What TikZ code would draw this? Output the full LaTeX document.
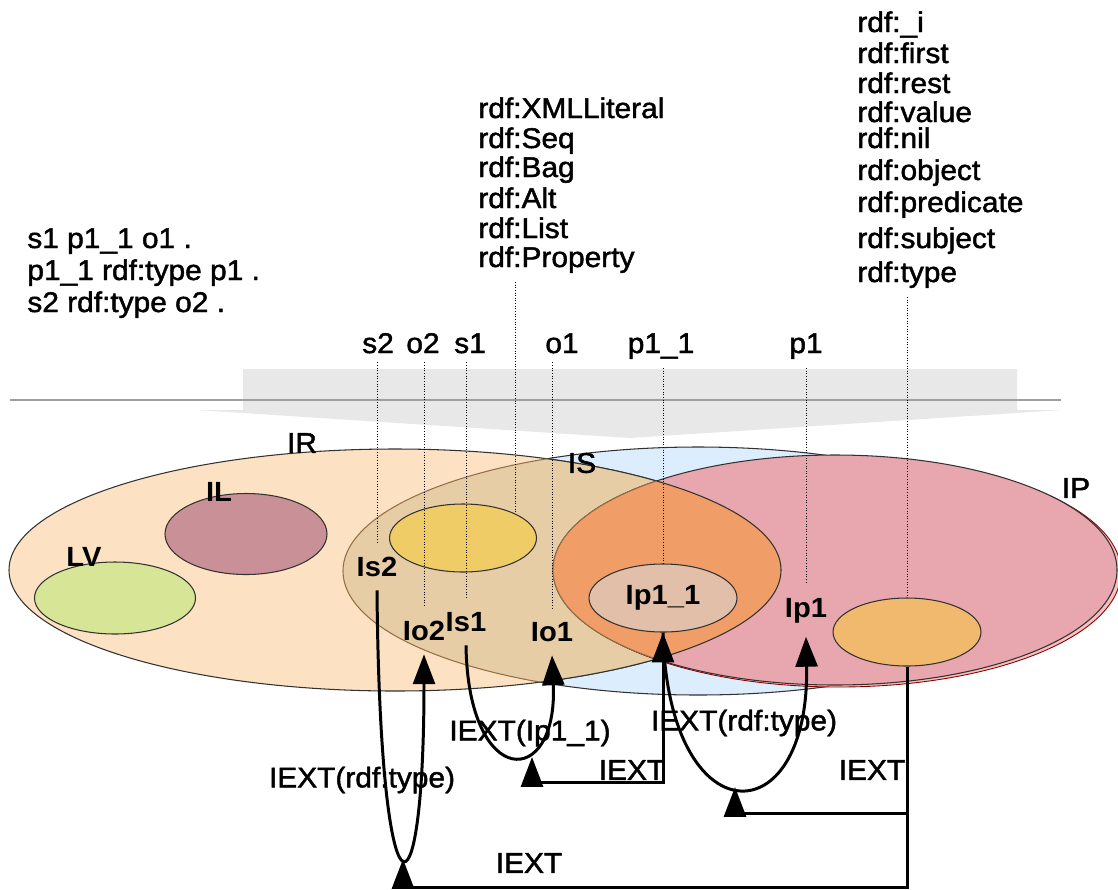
\documentclass[tikz,border=0pt]{standalone}
\usepackage{fontspec}
\setmainfont{Liberation Sans}[FakeStretch=1.05, UprightFeatures={FakeBold=1.6}]
\usetikzlibrary{arrows.meta,shapes.geometric}

\definecolor{edge}{RGB}{50,50,50}
\definecolor{brownedge}{RGB}{150,110,70}
\definecolor{irfill}{RGB}{253,225,195}
\definecolor{isfill}{RGB}{220,238,254}
\definecolor{tanfill}{RGB}{230,205,166}
\definecolor{ipfill}{RGB}{232,166,175}
\definecolor{ipshade}{RGB}{247,192,192}
\definecolor{lensfill}{RGB}{240,157,104}
\definecolor{lvfill}{RGB}{215,230,150}
\definecolor{ilfill}{RGB}{201,145,151}
\definecolor{ylwfill}{RGB}{240,204,102}
\definecolor{ipofill}{RGB}{225,191,168}
\definecolor{typfill}{RGB}{241,185,110}

\tikzset{
    txt/.style={inner sep=0pt, font=\fontsize{16.2}{19}\selectfont},
    elab/.style={inner sep=0pt, outer sep=8pt, font=\fontsize{15.8}{19}\selectfont\bfseries},
    blob/.style 2 args={ellipse, draw=edge, line width=0.6pt, inner sep=0pt,
        minimum width=#1*0.02cm, minimum height=#2*0.02cm},
    dots/.style={densely dotted, line width=0.5pt, shorten <=5pt},
    iext/.style={line width=1.7pt}
}

\begin{document}
\begin{tikzpicture}[x=0.02cm, y=-0.02cm, >={Triangle[width=12.5pt,length=17pt]}]
    \useasboundingbox (0,0) rectangle (1118,889);

    \fill[gray!18] (243,369) -- (1017,369) -- (1017,410) -- (1063,410)
        -- (630,438) -- (196,410) -- (243,410) -- cycle;
    \draw[gray!75, line width=0.9pt] (10,400) -- (1061,400);

    % IS, IR and their overlap
    \filldraw[fill=isfill, draw=edge, line width=0.6pt] (698,571) ellipse [x radius=355, y radius=124];
    \filldraw[fill=irfill, draw=edge, line width=0.6pt] (395,570) ellipse [x radius=386, y radius=121];
    \begin{scope}
        \clip (698,571) ellipse [x radius=355, y radius=124];
        \filldraw[fill=tanfill, draw=edge, line width=0.6pt] (395,570) ellipse [x radius=386, y radius=121];
    \end{scope}
    \begin{scope}
        \clip (395,570) ellipse [x radius=386, y radius=121];
        \draw[brownedge, line width=0.6pt] (698,571) ellipse [x radius=355, y radius=124];
    \end{scope}

    % IP and the lens
    \filldraw[fill=ipshade, draw=red!55!black, line width=0.5pt] (839,572) ellipse [x radius=282, y radius=115];
    \filldraw[fill=ipfill, draw=edge, line width=0.6pt] (835,570) ellipse [x radius=282, y radius=115];
    \begin{scope}
        \clip (835,570) ellipse [x radius=282, y radius=115];
        \filldraw[fill=lensfill, draw=edge, line width=0.6pt] (395,570) ellipse [x radius=386, y radius=121];
    \end{scope}
    \begin{scope}
        \clip (395,570) ellipse [x radius=386, y radius=121];
        \draw[brownedge, line width=0.6pt] (835,570) ellipse [x radius=282, y radius=115];
    \end{scope}

    \node[blob={161}{72}, fill=lvfill] (lv) at (115,598) {};
    \node[blob={162}{81}, fill=ilfill] (il) at (246,534) {};
    \node[blob={147}{68}, fill=ylwfill] (ylw) at (463,538) {};
    \node[blob={148}{68}, fill=ipofill, font=\fontsize{15.8}{19}\selectfont\bfseries] (ip11) at (663,598) {Ip1\_1};
    \node[blob={148}{68}, fill=typfill] (rdft) at (907,632) {};

    \node[txt] (irl) at (302,443) {IR};
    \node[txt] (isl) at (582,463) {IS};
    \node[txt] (ipl) at (1076,488) {IP};
    \node[elab] (ill) at (219,492) {IL};
    \node[elab] (lvl) at (84,557) {LV};
    \node[elab, anchor=base] (is2) at (377,576) {Is2};
    \node[elab, anchor=base] (io2) at (424,640) {Io2};
    \node[elab, anchor=base] (is1) at (466,631) {Is1};
    \node[elab, anchor=base] (io1) at (552,641) {Io1};
    \node[elab, anchor=base] (ip1) at (806,617) {Ip1};

    \foreach \yy/\ln [count=\i] in {248/{s1 p1\_1 o1 .}, 280/{p1\_1 rdf:type p1 .}, 312/{s2 rdf:type o2 .}}
        \node[txt, anchor=base west] (tr\i) at (27,\yy) {\ln};
    \foreach \yy/\nm [count=\i] in {118/XMLLiteral, 148/Seq, 177/Bag, 208/Alt, 238/List, 267/Property}
        \node[txt, anchor=base west] (cls\i) at (478,\yy) {rdf:\nm};
    \foreach \yy/\nm [count=\i] in {32/\_i, 63/first, 93/rest, 122/value, 148/nil, 180/object, 212/predicate, 248/subject, 282/type}
        \node[txt, anchor=base west] (prp\i) at (857,\yy) {rdf:\nm};

    \node[txt, anchor=base] (s2) at (378,353) {s2};
    \node[txt, anchor=base] (o2) at (423,353) {o2};
    \node[txt, anchor=base] (s1) at (470,353) {s1};
    \node[txt, anchor=base] (o1) at (562,353) {o1};
    \node[txt, anchor=base] (p11) at (661,353) {p1\_1};
    \node[txt, anchor=base] (p1) at (806,353) {p1};

    \foreach \a/\b in {s2/is2, o2/io2, s1/is1, o1/io1, p11/ip11, p1/ip1}
        \draw[dots] (\b |- \a.south) -- (\b.north);
    \draw[dots] (ylw.25 |- cls6.south) -- (ylw.25);
    \draw[dots] (rdft.north |- prp9.south) -- (rdft.north);

    \coordinate (pair1) at (532,757);
    \coordinate (pair2) at (403,859);
    \coordinate (pair3) at (735,787);
    \coordinate (k1) at (663,782);
    \coordinate (k2) at (907,887);
    \coordinate (k3) at (907,813);

    \draw[iext, ->] (is2.south) .. controls (380,935) and (424,935) .. (io2.south);
    \draw[iext, ->] (is1.south) .. controls (468,790) and (558,790) .. (io1.south);
    \draw[iext, ->] (ip11.south) .. controls (668,838) and (810,838) .. (ip1.south);
    \draw[iext, <->] (ip11.south) -- (k1) -| (pair1);
    \draw[iext, ->] (rdft.south) -- (k2) -| (pair2);
    \draw[iext, ->] (k3) -| (pair3);

    \node[txt] (e1) at (362,780) {IEXT(rdf:type)};
    \node[txt] (e2) at (530,733) {IEXT(Ip1\_1)};
    \node[txt] (e3) at (744,723) {IEXT(rdf:type)};
    \node[txt] (e4) at (632,770) {IEXT};
    \node[txt] (e5) at (872,770) {IEXT};
    \node[txt] (e6) at (529,863) {IEXT};
\end{tikzpicture}
\end{document}
